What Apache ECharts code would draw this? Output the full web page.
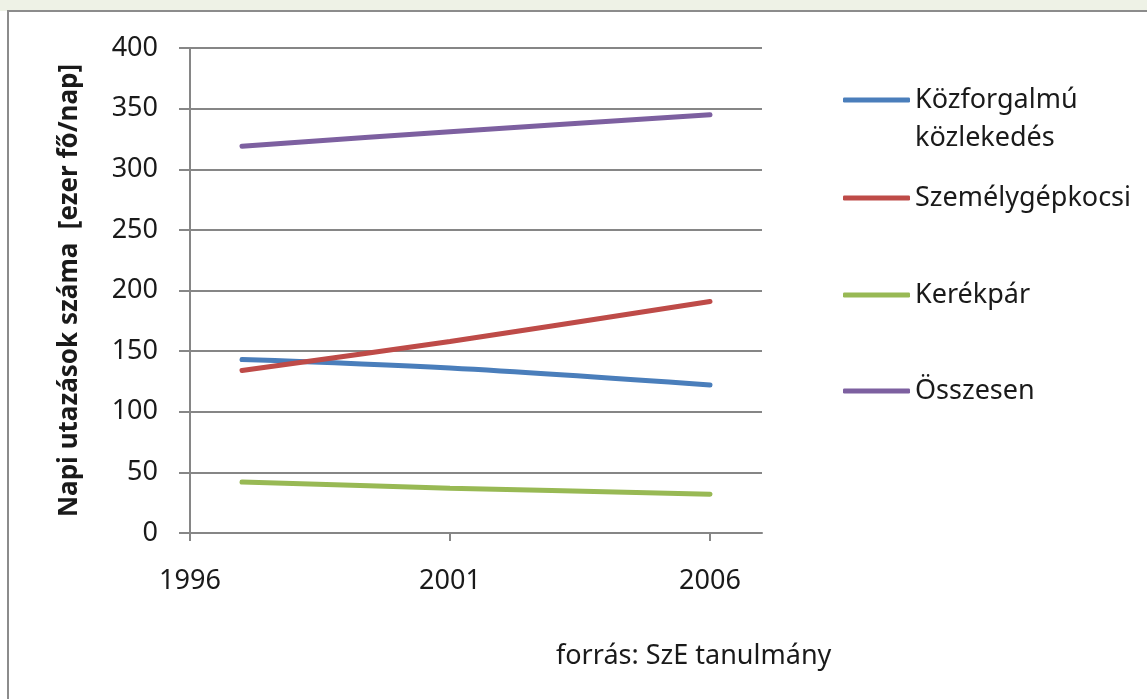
<!DOCTYPE html>
<html>
<head>
<meta charset="utf-8">
<script src="https://cdn.jsdelivr.net/npm/echarts@6/dist/echarts.min.js"></script>
<style>
html,body{margin:0;padding:0;background:#fff;}
#c{width:1147px;height:699px;}
</style>
</head>
<body>
<div id="c"></div>
<script>
const years = [1997, 2001, 2006];
const kozforgalmu = [143, 136, 122];
const szemelygepkocsi = [134, 158, 191];
const kerekpar = [42, 37, 32];
const osszesen = [319, 331, 345];
const seriesNames = ['Közforgalmú közlekedés', 'Személygépkocsi', 'Kerékpár', 'Összesen'];
const xTicks = [1996, 2001, 2006];
const yAxisTitle = 'Napi utazások száma  [ezer fő/nap]';
const sourceText = 'forrás: SzE tanulmány';

const colors = ['#4a7ebb', '#be4b48', '#98b954', '#7d60a0'];
const FONT = 'Noto Sans';
const grey = '#868686';

function pairs(vals){ return years.map((y,i)=>[y, vals[i]]); }
const allVals = [kozforgalmu, szemelygepkocsi, kerekpar, osszesen];

const chart = echarts.init(document.getElementById('c'));

function legendFor(i, top, extra){
  return Object.assign({
    data: [seriesNames[i]],
    left: 843, top: top,
    padding: 0,
    itemWidth: 67, itemHeight: 5, itemGap: 0,
    icon: 'roundRect',
    selectedMode: false,
    textStyle: {fontFamily: FONT, fontSize: 27, color: '#1a1a1a', lineHeight: 38}
  }, extra || {});
}

chart.setOption({
  animation: false,
  color: colors,
  graphic: [
    {type: 'rect', z: -10, shape: {x: 0, y: 0, width: 1147, height: 11}, style: {fill: '#eef2e6'}},
    {type: 'rect', z: -9, shape: {x: 8, y: 11, width: 1160, height: 720}, style: {fill: '#ffffff', stroke: '#8c8c8c', lineWidth: 2}},
    {type: 'text', left: 556, top: 643, style: {text: sourceText, fontFamily: FONT, fontSize: 27, fill: '#1a1a1a'}}
  ],
  grid: {left: 190, right: 385, top: 48, bottom: 166, containLabel: false},
  legend: [
    legendFor(0, 43, {formatter: function(){ return '\nKözforgalmú\nközlekedés'; }}),
    legendFor(1, 179),
    legendFor(2, 276),
    legendFor(3, 372)
  ],
  xAxis: {
    type: 'value', min: 1996, max: 2007, interval: 5,
    axisLine: {show: true, lineStyle: {color: grey, width: 2}},
    axisTick: {show: true, inside: false, length: 8, lineStyle: {color: grey, width: 2}, customValues: xTicks},
    axisLabel: {fontFamily: FONT, fontSize: 27, color: '#1a1a1a', margin: 35, customValues: xTicks,
      formatter: function(v){ return String(v); }},
    splitLine: {show: false}
  },
  yAxis: {
    type: 'value', min: 0, max: 400, interval: 50,
    name: yAxisTitle, nameLocation: 'middle', nameRotate: 90, nameGap: 107,
    nameTextStyle: {fontFamily: FONT, fontSize: 26, fontWeight: 'bold', color: '#1a1a1a'},
    axisLine: {show: true, lineStyle: {color: grey, width: 2}},
    axisTick: {show: true, inside: false, length: 11, lineStyle: {color: grey, width: 2}},
    axisLabel: {fontFamily: FONT, fontSize: 27, color: '#1a1a1a', margin: 32},
    splitLine: {show: true, lineStyle: {color: grey, width: 2}}
  },
  series: seriesNames.map((n, i) => ({
    name: n, type: 'line', data: pairs(allVals[i]), smooth: 0.35,
    showSymbol: false, symbol: 'none',
    lineStyle: {width: 5, color: colors[i], cap: 'round'},
    itemStyle: {color: colors[i]}
  }))
});
</script>
</body>
</html>
